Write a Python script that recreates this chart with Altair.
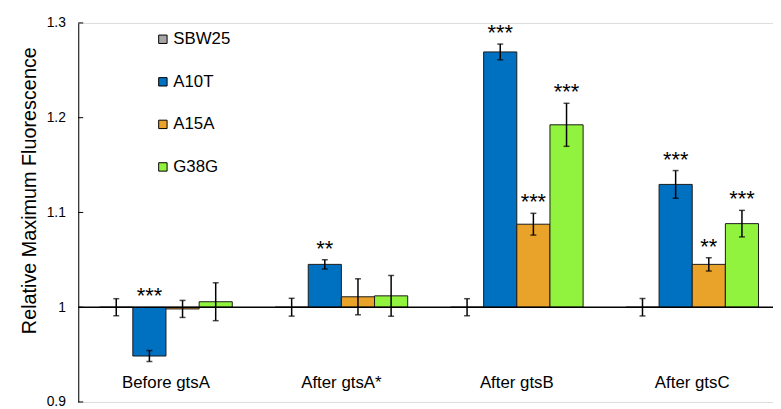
import altair as alt
import pandas as pd

groups = ["Before gtsA", "After gtsA*", "After gtsB", "After gtsC"]
series = ["SBW25", "A10T", "A15A", "G38G"]
colors = ["#A6A6A6", "#0070C0", "#E9A22A", "#92F33E"]

# values per series, in group order
sbw25 = [1.000, 1.000, 1.000, 1.000]
a10t = [0.9485, 1.0452, 1.2694, 1.1296]
a15a = [0.9982, 1.0110, 1.0876, 1.0452]
g38g = [1.0058, 1.0120, 1.1925, 1.0882]

sbw25_err = [0.0090, 0.0094, 0.0090, 0.0092]
a10t_err = [0.0058, 0.0049, 0.0083, 0.0146]
a15a_err = [0.0090, 0.0190, 0.0115, 0.0070]
g38g_err = [0.0200, 0.0215, 0.0227, 0.0140]

sbw25_sig = ["", "", "", ""]
a10t_sig = ["***", "**", "***", "***"]
a15a_sig = ["", "", "***", "**"]
g38g_sig = ["", "", "***", "***"]

y_ticks = [0.9, 1.0, 1.1, 1.2, 1.3]

vals = [sbw25, a10t, a15a, g38g]
errs = [sbw25_err, a10t_err, a15a_err, g38g_err]
sigs = [sbw25_sig, a10t_sig, a15a_sig, g38g_sig]

rows = []
for si, s in enumerate(series):
    for gi, g in enumerate(groups):
        v = vals[si][gi]
        e = errs[si][gi]
        rows.append({
            "group": g, "series": s, "value": v, "base": 1.0,
            "lo": v - e, "hi": v + e,
            "sig": sigs[si][gi],
            "sig_y": (v + e) if v >= 1.0 else 1.0,
        })
df = pd.DataFrame(rows)

W = 702
H = 383

xenc = alt.X("group:N", sort=groups,
             scale=alt.Scale(domain=groups, range=[0, 709], paddingInner=0.244, paddingOuter=0.122),
             axis=alt.Axis(title=None, domain=False, ticks=False, grid=False, labelAngle=0,
                           labelFont="Liberation Sans", labelFontSize=17, labelColor="#000",
                           offset=-29, labelPadding=1))
xoff = alt.XOffset("series:N", sort=series,
                   scale=alt.Scale(domain=series, paddingInner=0, paddingOuter=0))
yscale = alt.Scale(domain=[0.9, 1.3], nice=False, zero=False)

base = alt.Chart(df)

bars = base.mark_bar(stroke="#1a1a1a", strokeWidth=1).encode(
    x=xenc,
    xOffset=xoff,
    y=alt.Y("value:Q", scale=yscale,
            axis=alt.Axis(title="Relative Maximum Fluorescence", values=y_ticks, format=".1~f",
                          grid=False, ticks=False, domainColor="#000", domainWidth=1,
                          labelFont="Liberation Sans", labelFontSize=14, labelColor="#000",
                          labelPadding=13, titleFont="Liberation Sans", titleFontSize=20,
                          titleFontWeight="normal", titleColor="#000", titlePadding=7,
                          titleY=169)),
    y2="base:Q",
    color=alt.Color("series:N", sort=series,
                    scale=alt.Scale(domain=series, range=colors),
                    legend=alt.Legend(title=None, orient="none", legendX=77, legendY=8,
                                      symbolType="square", symbolSize=72,
                                      symbolStrokeColor="#000", symbolStrokeWidth=1,
                                      symbolOpacity=1,
                                      labelFont="Liberation Sans", labelFontSize=17,
                                      labelColor="#000", rowPadding=25, padding=0,
                                      labelOffset=2)),
)

baseline = alt.Chart(pd.DataFrame({"b": [1.0]})).mark_rule(color="#000", strokeWidth=1.5).encode(
    y=alt.Y("b:Q", scale=yscale), x=alt.value(0), x2=alt.value(W))

yticks = alt.Chart(pd.DataFrame({"t": y_ticks})).mark_rule(color="#000", strokeWidth=1).encode(
    y=alt.Y("t:Q", scale=yscale), x=alt.value(0), x2=alt.value(5))

err_rule = base.mark_rule(color="#000", strokeWidth=1.5).encode(
    x=xenc, xOffset=xoff, y=alt.Y("lo:Q", scale=yscale), y2="hi:Q")
cap_lo = base.mark_tick(color="#000", orient="horizontal", size=6, thickness=1.5).encode(
    x=xenc, xOffset=xoff, y=alt.Y("lo:Q", scale=yscale))
cap_hi = base.mark_tick(color="#000", orient="horizontal", size=6, thickness=1.5).encode(
    x=xenc, xOffset=xoff, y=alt.Y("hi:Q", scale=yscale))

stars = base.transform_filter(alt.datum.sig != "").mark_text(
    baseline="bottom", align="center", fontSize=22, font="Liberation Sans", color="#000", dy=1
).encode(x=xenc, xOffset=xoff, y=alt.Y("sig_y:Q", scale=yscale), text="sig:N")

chart = alt.layer(bars, baseline, yticks, err_rule, cap_lo, cap_hi, stars).properties(
    width=W, height=H,
    autosize=alt.AutoSizeParams(type="none"),
    padding={"left": 71, "top": 13, "right": 0, "bottom": 5},
).configure_view(stroke=None).configure(background="white")

chart.save("out.html", embed_options={"renderer": "svg", "actions": False})
